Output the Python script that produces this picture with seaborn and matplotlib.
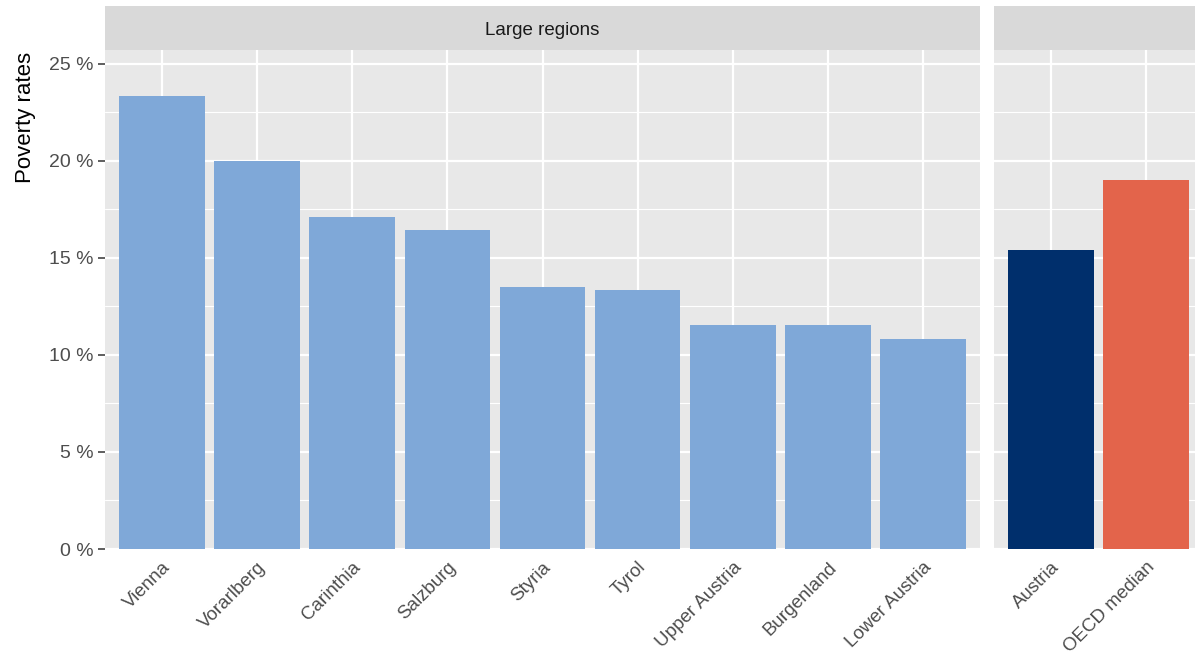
import matplotlib
matplotlib.use("Agg")
import matplotlib.pyplot as plt
import seaborn as sns
from matplotlib.ticker import FuncFormatter, MultipleLocator

regions = ["Vienna", "Vorarlberg", "Carinthia", "Salzburg", "Styria", "Tyrol",
           "Upper Austria", "Burgenland", "Lower Austria"]
region_rates = [23.35, 20.0, 17.1, 16.45, 13.5, 13.35, 11.55, 11.55, 10.8]
ref_labels = ["Austria", "OECD median"]
ref_rates = [15.4, 19.0]
ref_colors = ["#002F6C", "#E3644B"]
region_color = "#7FA8D8"

sns.set_theme(style="darkgrid")
plt.rcParams["font.family"] = ["Liberation Sans", "DejaVu Sans"]

W, H = 1195, 659
fig = plt.figure(figsize=(W / 100, H / 100), dpi=100)

def px(x0, y0, x1, y1):
    # pixel box (top-left origin) -> figure fraction
    return [x0 / W, 1 - y1 / H, (x1 - x0) / W, (y1 - y0) / H]

ax1 = fig.add_axes(px(105, 50, 980, 549))
ax2 = fig.add_axes(px(994, 50, 1203, 549))
s1 = fig.add_axes(px(105, 6, 980, 50))
s2 = fig.add_axes(px(994, 6, 1203, 50))

sns.barplot(x=regions, y=region_rates, color=region_color, saturation=1,
            width=0.9, linewidth=0, ax=ax1)
sns.barplot(x=ref_labels, y=ref_rates, hue=ref_labels, palette=ref_colors,
            saturation=1, width=0.9, linewidth=0, legend=False, ax=ax2)

ymax = 25.72
for ax, n in [(ax1, len(regions)), (ax2, len(ref_labels))]:
    ax.set_facecolor("#E8E8E8")
    ax.set_xlim(-0.6, n - 0.4)
    ax.set_ylim(0, ymax)
    ax.yaxis.set_major_locator(MultipleLocator(5))
    ax.yaxis.set_minor_locator(MultipleLocator(2.5))
    ax.set_axisbelow(True)
    ax.grid(which="major", color="white", lw=1.6)
    ax.grid(which="minor", axis="y", color="white", lw=0.8)
    for sp in ax.spines.values():
        sp.set_visible(False)
    ax.set_xlabel("")
    ax.set_ylabel("")
    ax.tick_params(axis="x", length=0, pad=7, labelsize=13.5, labelcolor="#4D4D4D")
    for lab in ax.get_xticklabels():
        lab.set_rotation(45)
        lab.set_ha("right")
        lab.set_va("top")
        lab.set_rotation_mode("anchor")

ax1.yaxis.set_major_formatter(FuncFormatter(lambda v, p: f"{int(v)} %"))
ax1.tick_params(axis="y", which="major", left=True, length=5, width=1.1,
                color="#333333", pad=3, labelsize=14, labelcolor="#4D4D4D")
ax1.tick_params(axis="y", which="minor", left=False)
ax2.tick_params(axis="y", which="both", left=False, labelleft=False)

for s, label in [(s1, "Large regions"), (s2, "")]:
    s.set_facecolor("#D9D9D9")
    s.set_xticks([])
    s.set_yticks([])
    s.grid(False)
    for sp in s.spines.values():
        sp.set_visible(False)
    s.text(0.5, 0.45, label, ha="center", va="center", fontsize=13.5,
           color="#1A1A1A", transform=s.transAxes)

fig.text(25 / W, 1 - 52 / H, "Poverty rates", rotation=90, ha="center",
         va="top", fontsize=16, color="black")

fig.savefig("out.png", dpi=100, facecolor="white")
